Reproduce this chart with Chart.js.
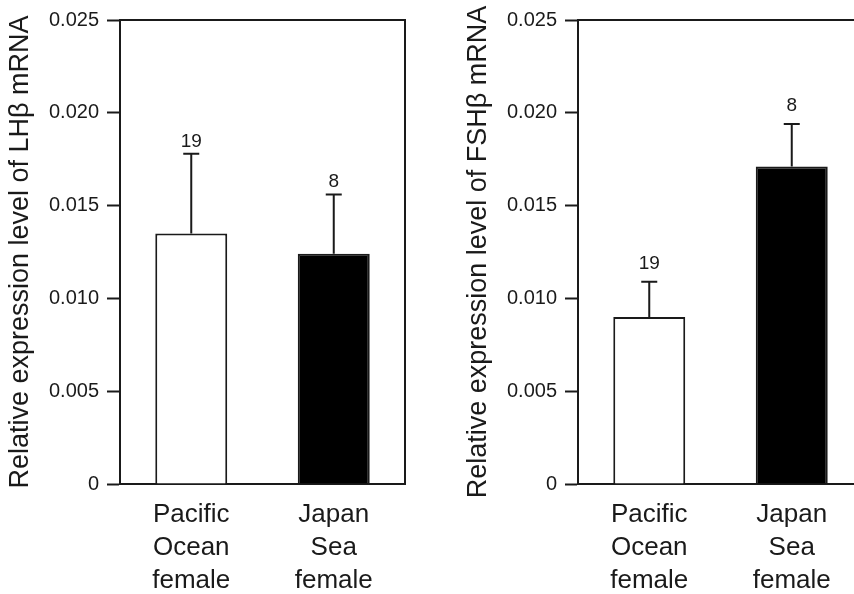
<!DOCTYPE html>
<html>
<head>
<meta charset="utf-8">
<script src="https://cdn.jsdelivr.net/npm/chart.js@4.4.1/dist/chart.umd.min.js"></script>
<style>
  html, body { margin: 0; padding: 0; background: #fff; overflow: hidden; }
  #wrap { position: relative; width: 854px; height: 594px; overflow: hidden; }
  .panel { position: absolute; top: 0; width: 427px; height: 594px; }
  #left { left: 0; }
  #right { left: 458px; }
</style>
</head>
<body>
<div id="wrap">
  <div class="panel" id="left"><canvas id="lhChart"></canvas></div>
  <div class="panel" id="right"><canvas id="fshChart"></canvas></div>
</div>
<script>
// Categories
const groups = [['Pacific', 'Ocean', 'female'], ['Japan', 'Sea', 'female']];

// LHβ panel
const lhMeans = [0.0135, 0.0124];
const lhErrors = [0.0043, 0.0032];

// FSHβ panel
const fshMeans = [0.0090, 0.0171];
const fshErrors = [0.0019, 0.0023];

// sample size written above each bar
const sampleSizes = [19, 8];

const yTicks = [0, 0.005, 0.010, 0.015, 0.020, 0.025];

const ink = '#1a1a1a';
const fontFamily = '"Liberation Sans", Arial, Helvetica, sans-serif';

// Draws the upward error bars, the n labels and the top/right frame
const errorBarPlugin = {
    id: 'errorBars',
    afterDatasetsDraw(chart, args, opts) {
        const ctx = chart.ctx;
        const y = chart.scales.y;
        const meta = chart.getDatasetMeta(0);
        ctx.save();
        ctx.strokeStyle = ink;
        ctx.lineWidth = 2;
        meta.data.forEach((bar, i) => {
            const top = y.getPixelForValue(opts.means[i]);
            const end = y.getPixelForValue(opts.means[i] + opts.errors[i]);
            ctx.beginPath();
            ctx.moveTo(bar.x, top);
            ctx.lineTo(bar.x, end);
            ctx.moveTo(bar.x - 8, end);
            ctx.lineTo(bar.x + 8, end);
            ctx.stroke();

            ctx.fillStyle = ink;
            ctx.font = '19px ' + fontFamily;
            ctx.textAlign = 'center';
            ctx.textBaseline = 'alphabetic';
            ctx.fillText(String(sampleSizes[i]), bar.x, end - opts.gap);
        });
        // frame
        const a = chart.chartArea;
        ctx.beginPath();
        ctx.moveTo(a.left, a.top);
        ctx.lineTo(a.right, a.top);
        ctx.lineTo(a.right, a.bottom);
        ctx.stroke();
        ctx.restore();
    }
};

function makeChart(canvasId, title, means, errors, gap) {
    const ctx = document.getElementById(canvasId).getContext('2d');
    return new Chart(ctx, {
        type: 'bar',
        data: {
            labels: groups,
            datasets: [{
                data: means,
                backgroundColor: ['#ffffff', '#000000'],
                borderColor: ink,
                borderWidth: 2,
                borderSkipped: 'bottom',
                categoryPercentage: 1,
                barPercentage: 0.505
            }]
        },
        options: {
            responsive: false,
            animation: false,
            devicePixelRatio: 1,
            layout: { padding: { top: 19, right: 22, left: 0, bottom: 0 } },
            plugins: {
                legend: { display: false },
                tooltip: { enabled: false },
                errorBars: { means: means, errors: errors, gap: gap }
            },
            scales: {
                x: {
                    grid: { display: false },
                    border: { display: true, color: ink, width: 2 },
                    ticks: {
                        color: ink,
                        padding: 6,
                        maxRotation: 0,
                        font: { family: fontFamily, size: 26, lineHeight: 1.27 }
                    },
                    afterFit(scale) { scale.height = 110; }
                },
                y: {
                    min: 0,
                    max: 0.025,
                    afterBuildTicks(scale) {
                        scale.ticks = yTicks.map(v => ({ value: v }));
                    },
                    grid: {
                        drawOnChartArea: false,
                        drawTicks: true,
                        tickLength: 13,
                        tickWidth: 2,
                        tickColor: ink
                    },
                    border: { display: true, color: ink, width: 2 },
                    ticks: {
                        color: ink,
                        padding: 8,
                        font: { family: fontFamily, size: 20 },
                        callback: v => (v === 0 ? '0' : v.toFixed(3))
                    },
                    title: {
                        display: true,
                        text: title,
                        color: ink,
                        padding: { top: 4, bottom: 0 },
                        font: { family: fontFamily, size: 27 }
                    },
                    afterFit(scale) { scale.width = 120; }
                }
            }
        },
        plugins: [errorBarPlugin]
    });
}

const lhCanvas = document.getElementById('lhChart');
lhCanvas.width = 427; lhCanvas.height = 594;
const fshCanvas = document.getElementById('fshChart');
fshCanvas.width = 427; fshCanvas.height = 594;

makeChart('lhChart', 'Relative expression level of LHβ mRNA', lhMeans, lhErrors, 7);
makeChart('fshChart', 'Relative expression level of FSHβ mRNA', fshMeans, fshErrors, 13);
</script>
</body>
</html>
